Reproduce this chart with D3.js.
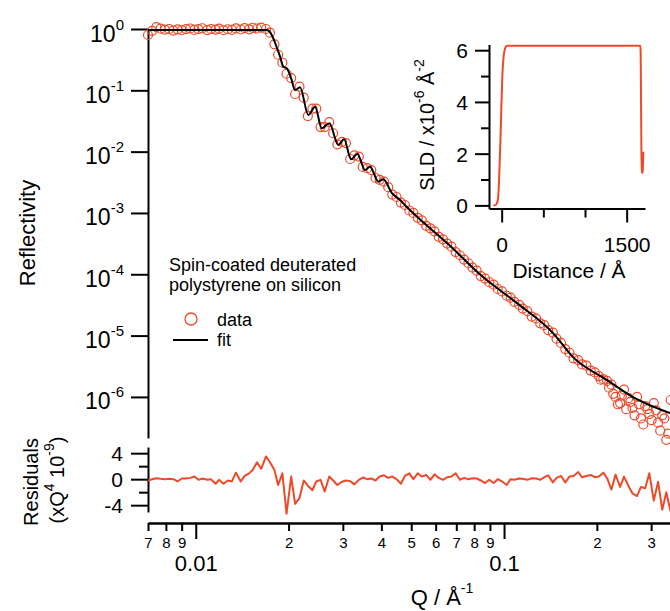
<!DOCTYPE html>
<html lang="en">
<head>
<meta charset="utf-8">
<script src="https://d3js.org/d3.v7.min.js"></script>
<style>
    body { margin: 0; background: #ffffff; }
    svg text { font-family: "Liberation Sans", Arial, sans-serif; fill: #000; }
    .axis path, .axis line { stroke: #000; stroke-width: 2; }
</style>
</head>
<body>
<svg id="chart"></svg>
<script>
// reflectivity data, Q in 1/A and log10(R)
var qData = [
    0.00700, 0.00722, 0.00745, 0.00769, 0.00794, 0.00820, 0.00846, 0.00873, 0.00901, 0.00930,
    0.00960, 0.00990, 0.0102, 0.0105, 0.0109, 0.0112, 0.0116, 0.0119, 0.0123, 0.0127,
    0.0131, 0.0135, 0.0140, 0.0144, 0.0149, 0.0153, 0.0158, 0.0163, 0.0169, 0.0174,
    0.0180, 0.0185, 0.0191, 0.0197, 0.0204, 0.0210, 0.0217, 0.0224, 0.0231, 0.0239,
    0.0246, 0.0254, 0.0262, 0.0271, 0.0279, 0.0288, 0.0298, 0.0307, 0.0317, 0.0327,
    0.0338, 0.0348, 0.0360, 0.0371, 0.0383, 0.0395, 0.0408, 0.0421, 0.0434, 0.0448,
    0.0463, 0.0477, 0.0493, 0.0508, 0.0525, 0.0541, 0.0559, 0.0577, 0.0595, 0.0614,
    0.0634, 0.0654, 0.0675, 0.0697, 0.0719, 0.0742, 0.0766, 0.0790, 0.0815, 0.0841,
    0.0868, 0.0896, 0.0925, 0.0954, 0.0985, 0.102, 0.105, 0.108, 0.112, 0.115,
    0.119, 0.123, 0.127, 0.131, 0.135, 0.139, 0.144, 0.148, 0.153, 0.158,
    0.163, 0.168, 0.174, 0.179, 0.185, 0.191, 0.197, 0.203, 0.210, 0.216,
    0.223, 0.230, 0.238, 0.245, 0.253, 0.261, 0.270, 0.278, 0.287, 0.296,
    0.306, 0.316, 0.326, 0.336, 0.347];
var logRData = [
    -0.098, -0.030, 0.030, 0.005, -0.010, 0.000, -0.025, -0.005, -0.020, -0.002,
    0.008, -0.015, -0.002, 0.012, -0.018, 0.000, -0.010, 0.005, -0.020, -0.004,
    -0.015, 0.010, -0.008, 0.015, -0.005, 0.020, 0.008, 0.022, 0.000, -0.06,
    -0.25, -0.42, -0.55, -0.73, -0.80, -1.06, -0.94, -1.12, -1.42, -1.30,
    -1.30, -1.60, -1.60, -1.52, -1.70, -1.88, -1.84, -1.86, -2.12, -2.06,
    -2.08, -2.25, -2.27, -2.30, -2.43, -2.46, -2.49, -2.58, -2.70, -2.74,
    -2.83, -2.87, -2.96, -3.00, -3.08, -3.12, -3.21, -3.25, -3.30, -3.39,
    -3.43, -3.50, -3.55, -3.64, -3.69, -3.76, -3.82, -3.89, -3.94, -4.03,
    -4.07, -4.13, -4.17, -4.24, -4.28, -4.35, -4.38, -4.45, -4.50, -4.56,
    -4.60, -4.69, -4.72, -4.80, -4.83, -4.91, -4.95, -5.05, -5.12, -5.22,
    -5.28, -5.37, -5.40, -5.47, -5.49, -5.57, -5.60, -5.66, -5.71, -5.74,
    -5.80, -6.00, -6.10, -5.88, -6.02, -6.18, -6.00, -6.35, -6.15, -6.28,
    -6.10, -6.42, -6.30, -6.70, -6.05];
// residuals (xQ^4 10^-9), same Q points as above
var residuals = [
    -0.2, 0.0, 0.15, 0.05, 0.0, 0.05, 0.0, -0.35, 0.1, 0.1,
    0.2, 0.4, -0.1, 0.1, -0.1, 0.0, -0.7, -0.1, -0.7, -0.2,
    -0.35, 1.0, -0.35, 0.5, 0.9, 1.4, 2.6, 1.6, 3.5, 2.6,
    1.4, -0.9, 0.9, -5.3, 0.4, -3.8, -2.9, -0.2, -1.0, -1.7,
    -0.35, -0.1, -1.9, 0.4, -0.2, -0.9, -0.4, -0.2, -0.3, -0.8,
    -0.1, 0.25, 0.0, 0.1, -0.2, 0.4, 0.6, 0.2, 0.4, 0.0,
    -0.7, 0.5, 0.9, 0.0, 0.9, 0.4, 0.65, -0.1, 0.75, 0.2,
    -0.1, 0.3, 0.4, 0.9, -0.1, 0.2, 0.0, 0.15, 0.1, -0.2,
    -0.6, -0.1, -0.6, 0.0, -0.35, -0.9, 0.0, -0.1, 0.1, 0.05,
    -0.1, 0.15, 0.1, -0.1, 0.3, 0.6, -0.5, 0.2, 0.5, -0.5,
    0.4, 0.5, 1.1, 0.3, 0.5, 0.65, 0.3, 0.4, 1.0, 0.15,
    -1.6, 0.7, -1.2, 0.4, -1.0, -2.2, -2.6, -1.2, -1.4, 0.9,
    -3.3, -0.4, -4.7, -2.0, -5.0];
// extra overlapping points in the high-Q tail
var tailQ = [0.206, 0.219, 0.226, 0.234, 0.241, 0.249, 0.257, 0.265,
             0.274, 0.283, 0.292, 0.301, 0.311, 0.321, 0.331, 0.341];
var tailLogR = [-5.72, -5.85, -5.95, -6.12, -5.98, -6.20, -6.08, -6.30,
                -6.12, -6.45, -6.20, -6.38, -6.22, -6.55, -6.35, -6.60];
// fitted curve
var fitQ = [0.00700, 0.01699, 0.01742, 0.01785, 0.01831, 0.01877, 0.01923, 0.01973, 0.02038,
            0.02099, 0.02179, 0.02318, 0.02438, 0.02563, 0.02713, 0.02901, 0.03027, 0.03190,
            0.03344, 0.03541, 0.03676, 0.03912, 0.04060, 0.04322, 0.04599, 0.04809, 0.05068,
            0.06533, 0.08549, 0.1102, 0.1442, 0.1674, 0.2159, 0.2620, 0.3454];
var fitLogR = [-0.016, -0.016, -0.05, -0.152, -0.30, -0.45, -0.615, -0.641, -0.80,
               -0.995, -0.951, -1.403, -1.268, -1.620, -1.538, -1.892, -1.799, -2.126,
               -2.039, -2.300, -2.246, -2.490, -2.452, -2.671, -2.79, -2.89, -3.002,
               -3.491, -4.046, -4.470, -4.959, -5.351, -5.726, -6.003, -6.264];
// SLD profile (inset)
var sldZ = [-100, -75, -60, -48, -40, -30, -20, -12, -2, 8, 19, 35, 50, 65,
            1665, 1668, 1671, 1674, 1677, 1681, 1686, 1691, 1696, 1700];
var sldValue = [0.0, 0.01, 0.07, 0.18, 0.4, 1.1, 2.0, 2.8, 4.0, 5.0, 5.6, 6.0, 6.13, 6.17,
                6.17, 5.9, 4.8, 3.3, 2.1, 1.45, 1.25, 1.3, 1.6, 2.07];

// ticks
var yTickExps = [0, -1, -2, -3, -4, -5, -6];
var xMinorTicks = [0.007, 0.008, 0.009, 0.02, 0.03, 0.04, 0.05, 0.06, 0.07, 0.08, 0.09, 0.2, 0.3];
var xMajorTicks = [0.01, 0.1];
var xMajorLabels = ["0.01", "0.1"];
var residTicks = [-4, -2, 0, 2, 4];
var sldYTicks = [0, 1, 2, 3, 4, 5, 6];
var sldXTicks = [0, 500, 1000, 1500];

var red = "#ee4a2a";
var w = 670, h = 611;

var svg = d3.select("#chart").attr("width", w).attr("height", h);

// scales
var x = d3.scaleLog().domain([0.007, 0.3454]).range([148, 670]);
var y = d3.scaleLog().domain([Math.pow(10, -6.67), 1]).range([438, 29]);
var yRes = d3.scaleLinear().domain([-5.05, 4.95]).range([512, 447]);

// ---- main reflectivity panel ----
var yAxis = svg.append("g").attr("class", "axis")
    .attr("transform", "translate(148,0)")
    .call(d3.axisLeft(y).tickValues(yTickExps.map(function(e) { return Math.pow(10, e); }))
        .tickSize(17).tickSizeOuter(0).tickFormat(""));
yAxis.selectAll(".tick text").remove();
yAxis.selectAll(".tick").append("text")
    .attr("x", -24).attr("y", 12)
    .attr("text-anchor", "end")
    .style("font-size", "23px")
    .each(function(d) {
        var t = d3.select(this);
        t.append("tspan").text("10");
        t.append("tspan").attr("dy", -12).style("font-size", "15px")
            .text(String(Math.round(Math.log10(d))));
    });

svg.append("text")
    .attr("transform", "translate(35,233) rotate(-90)")
    .attr("text-anchor", "middle")
    .style("font-size", "22px")
    .text("Reflectivity");

// data circles
var pts = qData.map(function(q, i) { return [q, logRData[i]]; })
    .concat(tailQ.map(function(q, i) { return [q, tailLogR[i]]; }));
svg.append("g").selectAll("circle")
    .data(pts)
    .enter()
    .append("circle")
    .attr("cx", function(d) { return x(d[0]); })
    .attr("cy", function(d) { return y(Math.pow(10, d[1])); })
    .attr("r", 4.5)
    .attr("fill", "none")
    .attr("stroke", red)
    .attr("stroke-width", 1.2);

// fit line
var fitLine = d3.line()
    .x(function(d) { return x(d[0]); })
    .y(function(d) { return y(Math.pow(10, d[1])); })
    .curve(d3.curveMonotoneX);
svg.append("path")
    .datum(fitQ.map(function(q, i) { return [q, fitLogR[i]]; }))
    .attr("d", fitLine)
    .attr("fill", "none")
    .attr("stroke", "#000")
    .attr("stroke-width", 2);

// legend
var legend = svg.append("g").style("font-size", "18px");
legend.append("text").attr("x", 169).attr("y", 271).text("Spin-coated deuterated");
legend.append("text").attr("x", 169).attr("y", 291).text("polystyrene on silicon");
legend.append("circle").attr("cx", 191).attr("cy", 319).attr("r", 6)
    .attr("fill", "none").attr("stroke", red).attr("stroke-width", 1.3);
legend.append("text").attr("x", 217).attr("y", 326).text("data");
legend.append("line").attr("x1", 173).attr("x2", 208).attr("y1", 340).attr("y2", 340)
    .attr("stroke", "#000").attr("stroke-width", 2);
legend.append("text").attr("x", 217).attr("y", 346).text("fit");

// ---- residuals panel ----
var resAxis = svg.append("g").attr("class", "axis")
    .attr("transform", "translate(148,0)")
    .call(d3.axisLeft(yRes).tickValues(residTicks).tickSizeOuter(0)
        .tickFormat(function(d) { return d % 4 === 0 ? String(d) : ""; }));
resAxis.selectAll(".tick line").attr("x2", function(d) { return d % 4 === 0 ? -17 : -9; });
resAxis.selectAll(".tick text").attr("x", -25).attr("dy", "0.35em").style("font-size", "21px");

var resLine = d3.line()
    .x(function(d) { return x(d[0]); })
    .y(function(d) { return yRes(d[1]); });
svg.append("path")
    .datum(qData.map(function(q, i) { return [q, residuals[i]]; }))
    .attr("d", resLine)
    .attr("fill", "none")
    .attr("stroke", red)
    .attr("stroke-width", 2)
    .attr("stroke-linejoin", "round");

var resLabel = svg.append("g").style("font-size", "20px");
resLabel.append("text")
    .attr("transform", "translate(38,482) rotate(-90)")
    .attr("text-anchor", "middle")
    .text("Residuals");
var resLabel2 = resLabel.append("text")
    .attr("transform", "translate(64,480) rotate(-90)")
    .attr("text-anchor", "middle");
resLabel2.append("tspan").text("(xQ");
resLabel2.append("tspan").attr("dy", -10).style("font-size", "14px").text("4");
resLabel2.append("tspan").attr("dy", 10).text(" 10");
resLabel2.append("tspan").attr("dy", -10).style("font-size", "14px").text("-9");
resLabel2.append("tspan").attr("dy", 10).text(")");

// ---- x axis ----
var xMinor = svg.append("g").attr("class", "axis")
    .attr("transform", "translate(0,523)")
    .call(d3.axisBottom(x).tickValues(xMinorTicks).tickSize(8).tickSizeOuter(0)
        .tickFormat(function(d) {
            return String(Math.round(d / Math.pow(10, Math.floor(Math.log10(d) + 1e-9))));
        }));
xMinor.selectAll(".tick text").attr("y", 25).attr("dy", 0).style("font-size", "15px");

var xMajor = svg.append("g").attr("class", "axis")
    .attr("transform", "translate(0,523)")
    .call(d3.axisBottom(x).tickValues(xMajorTicks).tickSize(16).tickSizeOuter(0)
        .tickFormat(function(d, i) { return xMajorLabels[i]; }));
xMajor.selectAll(".tick text").attr("y", 48).attr("dy", 0).style("font-size", "22px");

var xLabel = svg.append("text")
    .attr("x", 442).attr("y", 605)
    .attr("text-anchor", "middle")
    .style("font-size", "22px");
xLabel.append("tspan").text("Q / \u00c5");
xLabel.append("tspan").attr("dy", -12).style("font-size", "14px").text("-1");

// ---- inset: SLD profile ----
var xs = d3.scaleLinear().domain([-152, 1720]).range([489, 645]);
var ys = d3.scaleLinear().domain([-0.12, 6.22]).range([208.5, 44.5]);

var insetY = svg.append("g").attr("class", "axis")
    .attr("transform", "translate(489,0)")
    .call(d3.axisLeft(ys).tickValues(sldYTicks).tickSizeOuter(0)
        .tickFormat(function(d) { return d % 2 === 0 ? String(d) : ""; }));
insetY.selectAll(".tick line").attr("x2", function(d) { return d % 2 === 0 ? -14 : -8; });
insetY.selectAll(".tick text").attr("x", -21).attr("dy", "0.35em").style("font-size", "21px");

var insetX = svg.append("g").attr("class", "axis")
    .attr("transform", "translate(0,208.5)")
    .call(d3.axisBottom(xs).tickValues(sldXTicks).tickSizeOuter(0)
        .tickFormat(function(d) { return (d === 0 || d === 1500) ? String(d) : ""; }));
insetX.selectAll(".tick line").attr("y2", function(d) { return (d === 0 || d === 1500) ? 14 : 9; });
insetX.selectAll(".tick text").attr("y", 43).attr("dy", 0).style("font-size", "21px");

var sldLine = d3.line()
    .x(function(d) { return xs(d[0]); })
    .y(function(d) { return ys(d[1]); })
    .curve(d3.curveMonotoneX);
svg.append("path")
    .datum(sldZ.map(function(z, i) { return [z, sldValue[i]]; }))
    .attr("d", sldLine)
    .attr("fill", "none")
    .attr("stroke", red)
    .attr("stroke-width", 2);

svg.append("text")
    .attr("x", 569).attr("y", 278)
    .attr("text-anchor", "middle")
    .style("font-size", "21px")
    .text("Distance / \u00c5");

var sldLabel = svg.append("text")
    .attr("transform", "translate(434,125) rotate(-90)")
    .attr("text-anchor", "middle")
    .style("font-size", "20px");
sldLabel.append("tspan").text("SLD / x10");
sldLabel.append("tspan").attr("dy", -10).style("font-size", "14px").text("-6");
sldLabel.append("tspan").attr("dy", 10).text(" \u00c5");
sldLabel.append("tspan").attr("dy", -10).style("font-size", "14px").text("-2");
</script>
</body>
</html>
